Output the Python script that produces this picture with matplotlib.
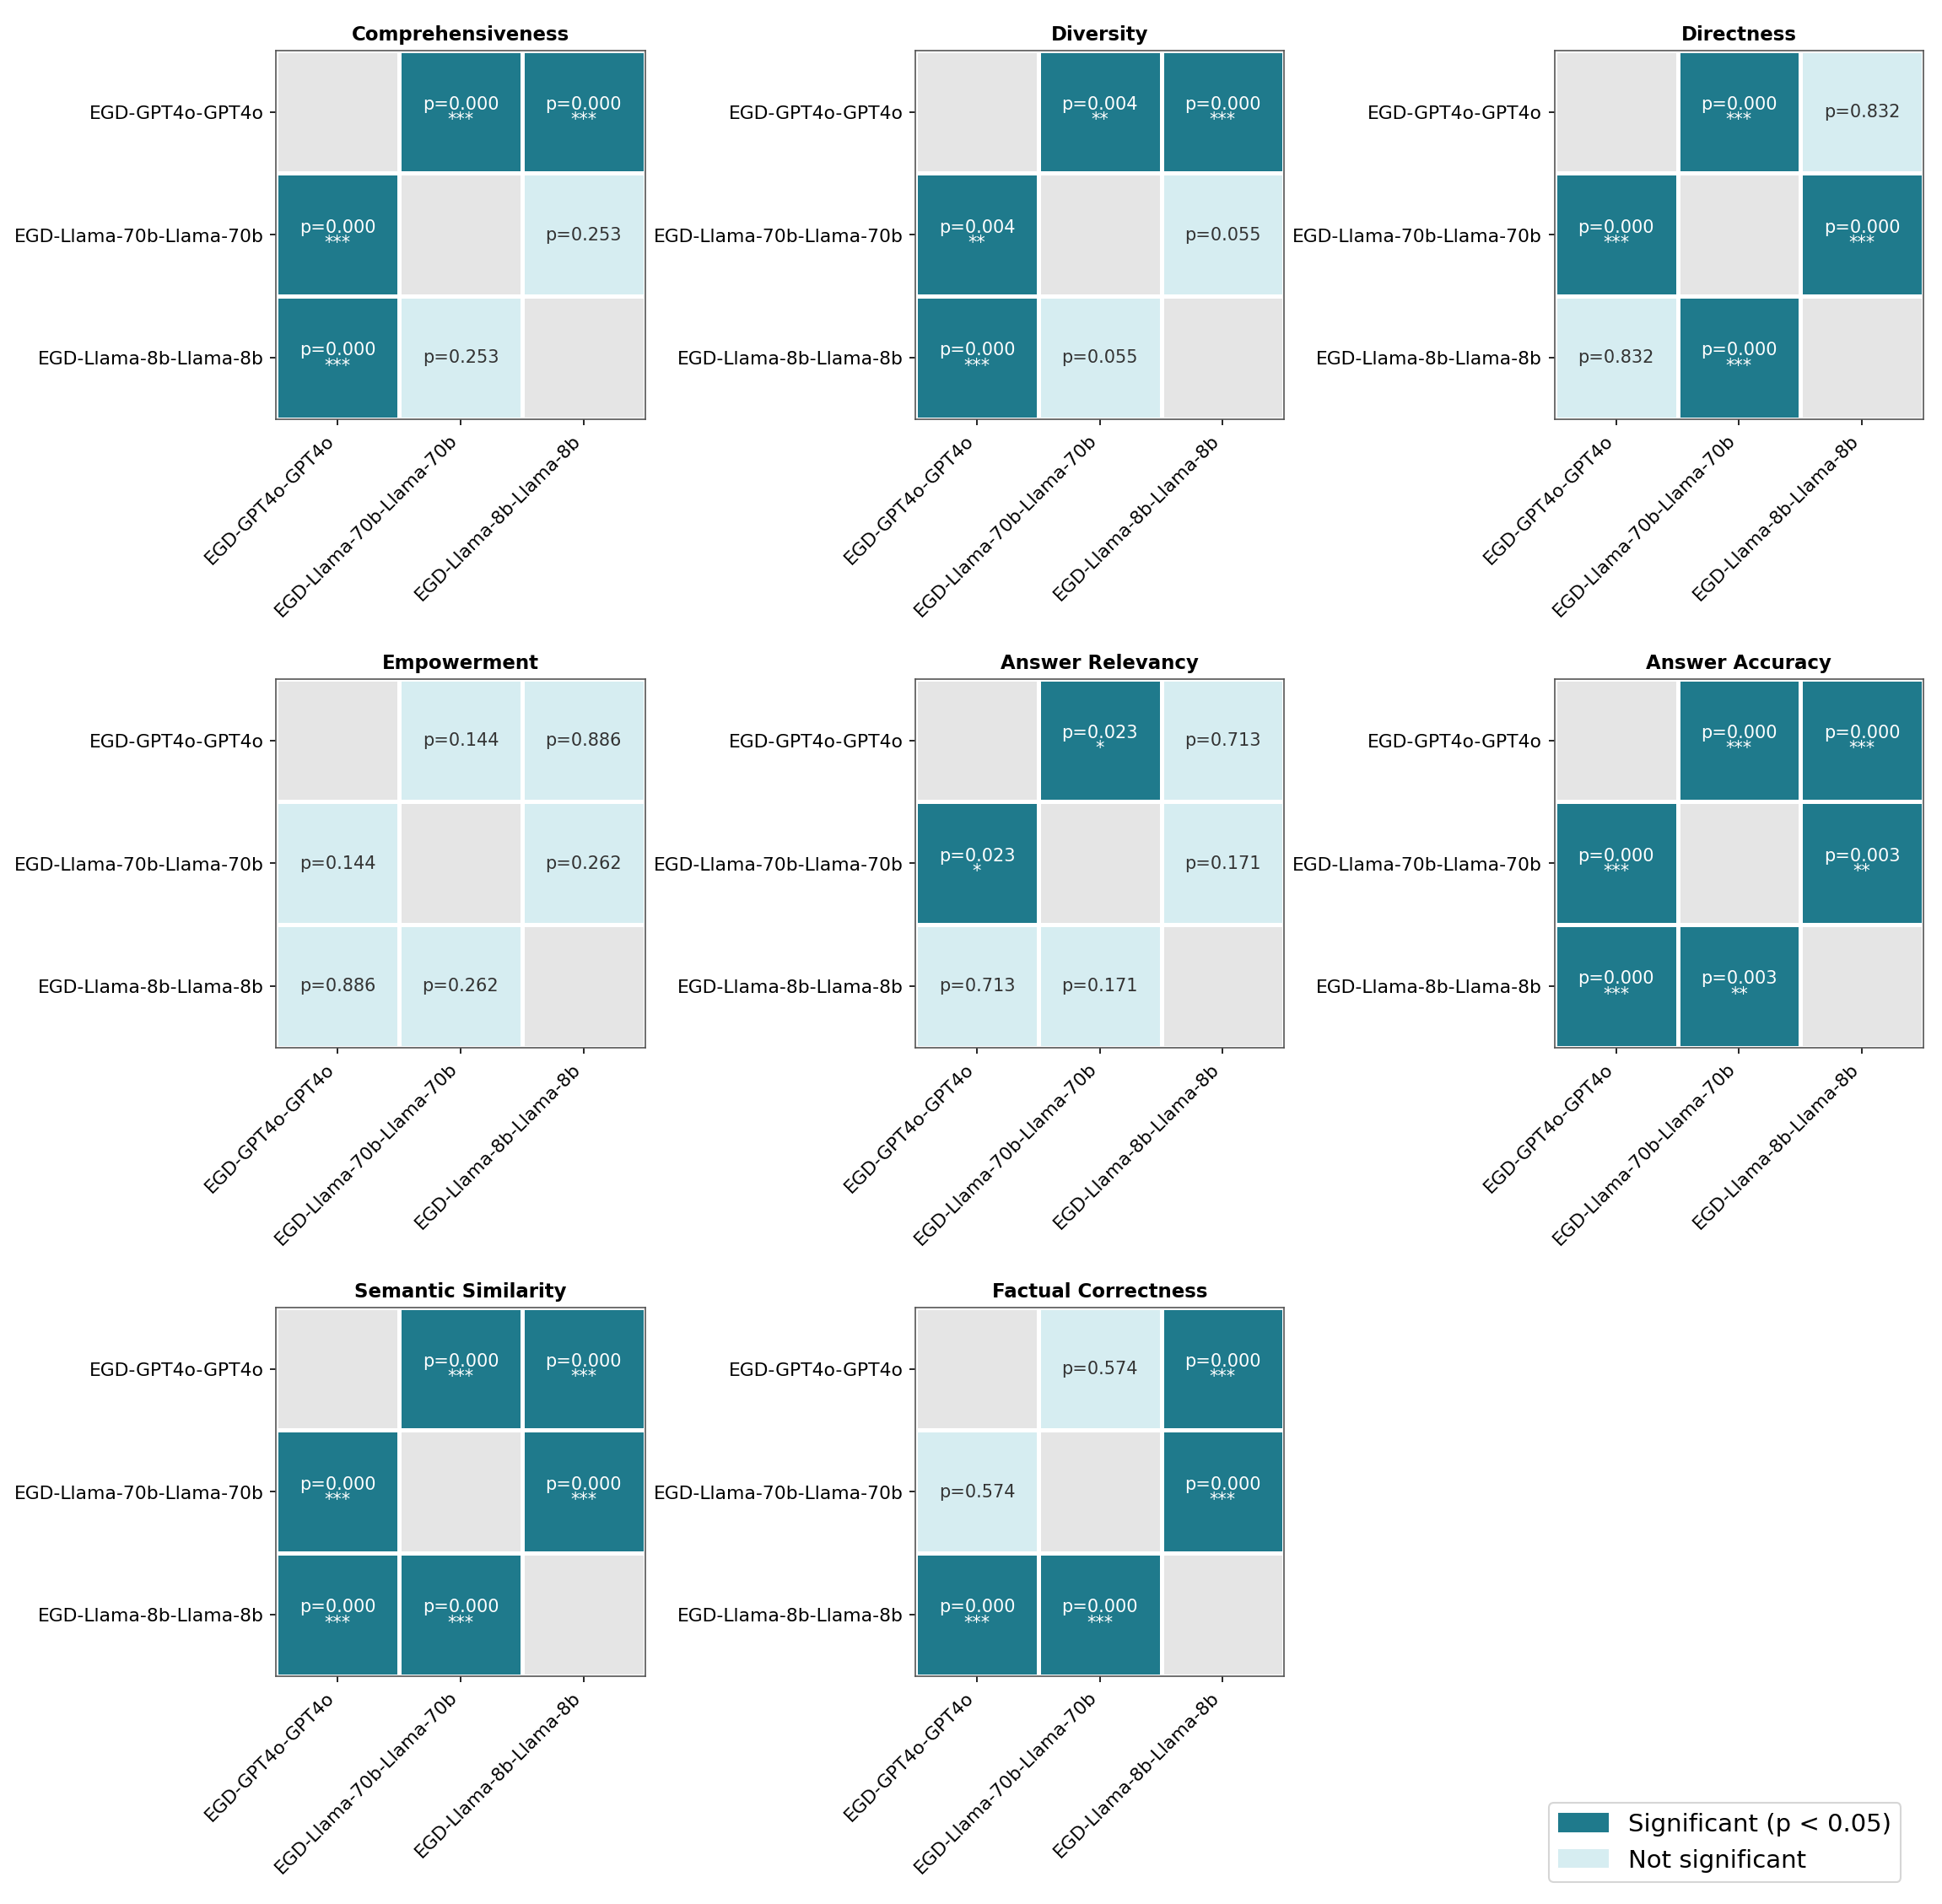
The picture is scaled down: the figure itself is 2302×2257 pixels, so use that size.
import numpy as np
import matplotlib.pyplot as plt
from matplotlib.colors import ListedColormap
from matplotlib.patches import Patch

models = ["EGD-GPT4o-GPT4o", "EGD-Llama-70b-Llama-70b", "EGD-Llama-8b-Llama-8b"]
metrics = ["Comprehensiveness", "Diversity", "Directness", "Empowerment",
           "Answer Relevancy", "Answer Accuracy", "Semantic Similarity", "Factual Correctness"]
# p-values for pairs (0,1), (0,2), (1,2)
pvals = {
    "Comprehensiveness": [0.000, 0.000, 0.253],
    "Diversity": [0.004, 0.000, 0.055],
    "Directness": [0.000, 0.832, 0.000],
    "Empowerment": [0.144, 0.886, 0.262],
    "Answer Relevancy": [0.023, 0.713, 0.171],
    "Answer Accuracy": [0.000, 0.000, 0.003],
    "Semantic Similarity": [0.000, 0.000, 0.000],
    "Factual Correctness": [0.574, 0.000, 0.000],
}

dark = "#1f7a8c"
light = "#d6edf1"
grey = "#e5e5e5"
cmap = ListedColormap([grey, light, dark])
pairs = [(0, 1), (0, 2), (1, 2)]

def stars(p):
    if p < 0.001:
        return "***"
    if p < 0.01:
        return "**"
    if p < 0.05:
        return "*"
    return ""

fig, axes = plt.subplots(3, 3, figsize=(15.35, 15.05))
for ax, m in zip(axes.flat, metrics):
    mat = np.full((3, 3), np.nan)
    code = np.zeros((3, 3))
    for (i, j), p in zip(pairs, pvals[m]):
        mat[i, j] = mat[j, i] = p
        code[i, j] = code[j, i] = 2 if p < 0.05 else 1
    ax.pcolormesh(code, cmap=cmap, vmin=0, vmax=2, edgecolors="white", linewidth=1.5)
    ax.set_xlim(0, 3)
    ax.set_ylim(3, 0)
    ax.set_aspect("equal")
    for i in range(3):
        for j in range(3):
            if i == j:
                continue
            p = mat[i, j]
            s = stars(p)
            txt = f"p={p:.3f}" + (f"\n{s}" if s else "")
            ax.text(j + 0.5, i + 0.5, txt, ha="center", va="center", fontsize=10,
                    color="white" if p < 0.05 else "#333333", linespacing=0.9)
    ax.set_xticks(np.arange(3) + 0.5)
    ax.set_yticks(np.arange(3) + 0.5)
    ax.set_xticklabels(models, rotation=45, ha="right", fontsize=10.5)
    ax.set_yticklabels(models, fontsize=10.5)
    ax.set_title(m, fontsize=11, fontweight="bold")
    for sp in ax.spines.values():
        sp.set_color("#555555")
axes.flat[8].axis("off")

handles = [Patch(color=dark, label="Significant (p < 0.05)"),
           Patch(color=light, label="Not significant")]
fig.legend(handles=handles, loc="lower right", fontsize=14, bbox_to_anchor=(0.985, 0.005))
plt.tight_layout()
fig.savefig("out.png", dpi=150)
